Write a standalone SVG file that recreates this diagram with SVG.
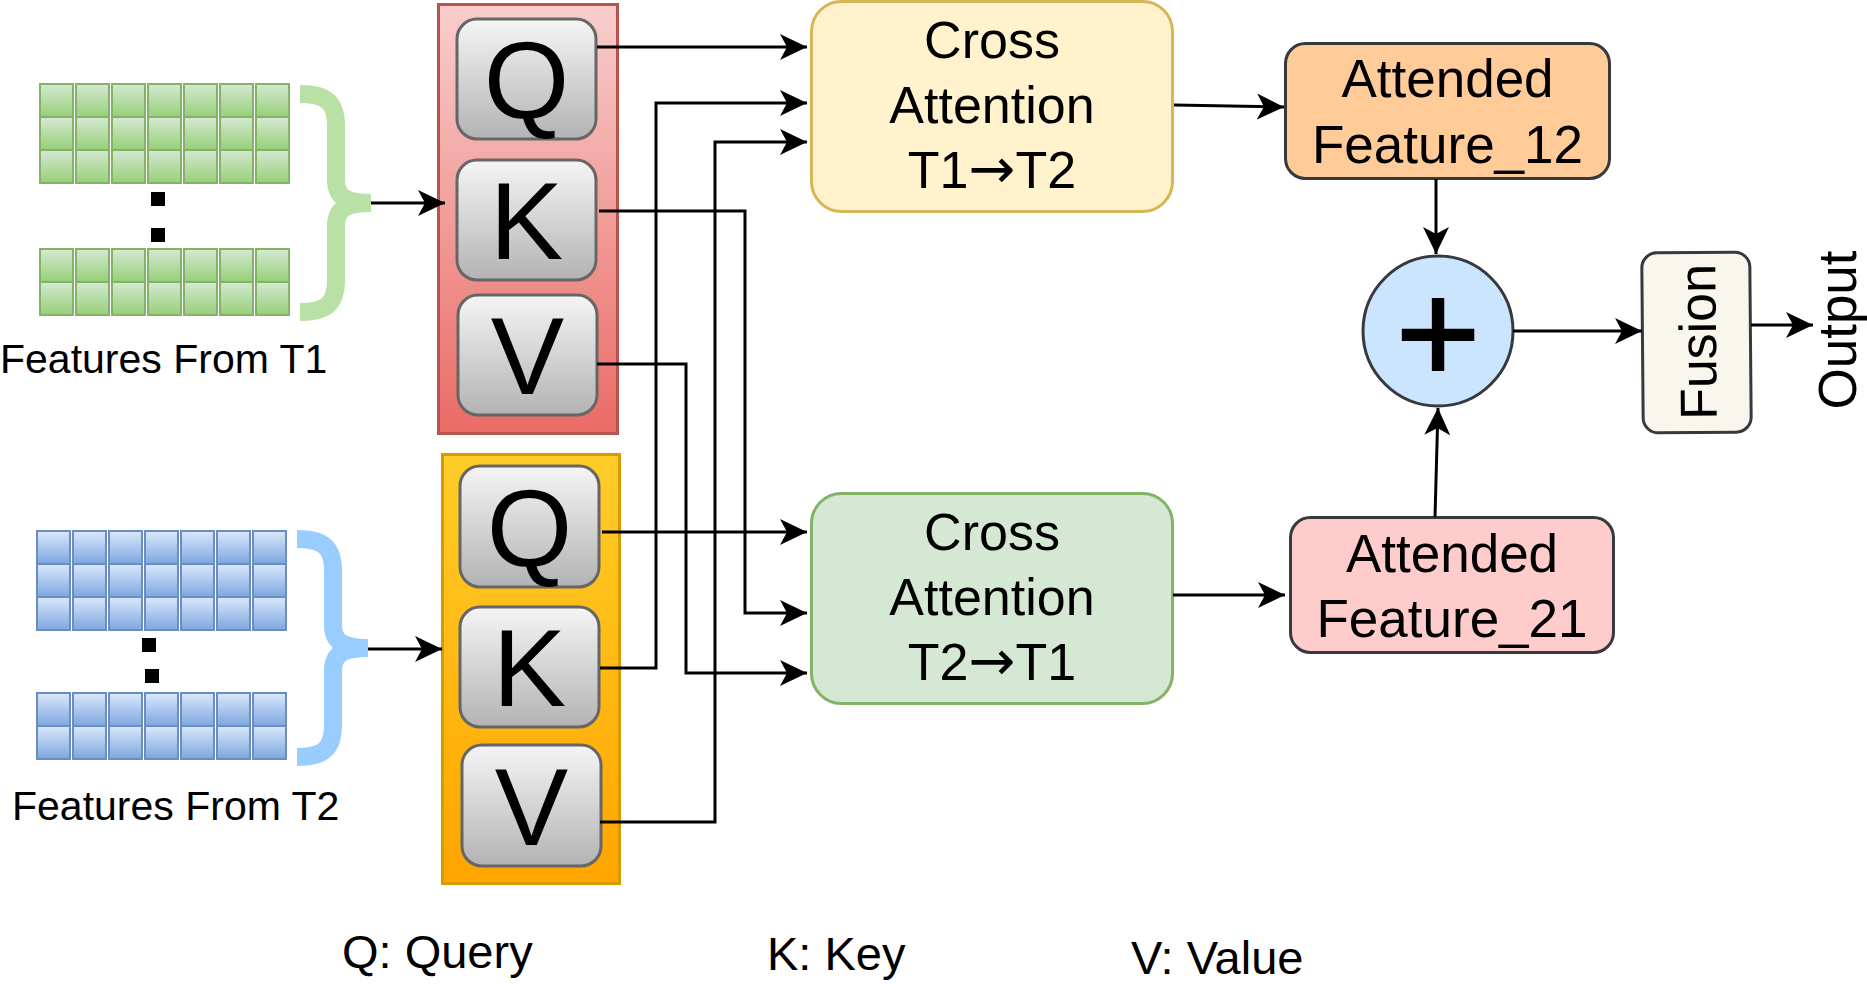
<svg xmlns="http://www.w3.org/2000/svg" xmlns:xlink="http://www.w3.org/1999/xlink" width="1867" height="984" viewBox="0 0 1867 984">
<style>
text { font-family: "Liberation Sans", Arial, sans-serif; fill: #000; }
.big { font-size: 110px; text-anchor: middle; }
.ca { font-size: 52px; text-anchor: middle; }
.arw { font-family: "DejaVu Sans", sans-serif; font-size: 56px; }
.af { font-size: 53px; text-anchor: middle; }
.lbl { font-size: 41px; }
.leg { font-size: 47px; }
.conn { fill: none; stroke: #000; stroke-width: 3; marker-end: url(#arr); }
.kbox { fill: url(#gGray); stroke: #666666; stroke-width: 3; }
.brace { fill: none; stroke-width: 18; stroke-linecap: butt; stroke-linejoin: round; }
</style>
<defs>
<linearGradient id="gGreen" x1="0" y1="0" x2="0" y2="1"><stop offset="0" stop-color="#d5e8d4"/><stop offset="1" stop-color="#97d077"/></linearGradient>
<linearGradient id="gBlue" x1="0" y1="0" x2="0" y2="1"><stop offset="0" stop-color="#dae8fc"/><stop offset="1" stop-color="#7ea6e0"/></linearGradient>
<linearGradient id="gRed" x1="0" y1="0" x2="0" y2="1"><stop offset="0" stop-color="#f8cecc"/><stop offset="1" stop-color="#ea6b66"/></linearGradient>
<linearGradient id="gOrange" x1="0" y1="0" x2="0" y2="1"><stop offset="0" stop-color="#ffcd28"/><stop offset="1" stop-color="#ffa500"/></linearGradient>
<linearGradient id="gGray" x1="0" y1="0" x2="0" y2="1"><stop offset="0" stop-color="#f5f5f5"/><stop offset="1" stop-color="#b3b3b3"/></linearGradient>
<marker id="arr" markerUnits="userSpaceOnUse" viewBox="0 0 27 26" refX="27" refY="13" markerWidth="27" markerHeight="26" orient="auto">
<path d="M0,0 L27,13 L0,26 L7,13 Z" fill="#000"/>
</marker>
<g id="col3"><rect x="0" y="0" width="33" height="33"/><rect x="0" y="33" width="33" height="33"/><rect x="0" y="66" width="33" height="33"/></g>
<g id="col2"><rect x="0" y="0" width="33" height="33"/><rect x="0" y="33" width="33" height="33"/></g>
<g id="row3"><use xlink:href="#col3" x="0"/><use xlink:href="#col3" x="36"/><use xlink:href="#col3" x="72"/><use xlink:href="#col3" x="108"/><use xlink:href="#col3" x="144"/><use xlink:href="#col3" x="180"/><use xlink:href="#col3" x="216"/></g>
<g id="row2"><use xlink:href="#col2" x="0"/><use xlink:href="#col2" x="36"/><use xlink:href="#col2" x="72"/><use xlink:href="#col2" x="108"/><use xlink:href="#col2" x="144"/><use xlink:href="#col2" x="180"/><use xlink:href="#col2" x="216"/></g>
<g id="braceShape">
<path d="M300,94 C326,94 336,102 336,126 L336,180 C336,197 346,203 371,203"/>
<path d="M300,312 C326,312 336,304 336,280 L336,226 C336,209 346,203 371,203"/>
</g>
</defs>

<g id="features-t1">
<use xlink:href="#row3" x="40" y="84" fill="url(#gGreen)" stroke="#82b366" stroke-width="2"/>
<rect x="151" y="192" width="14" height="14" fill="#000"/>
<rect x="151" y="228" width="14" height="14" fill="#000"/>
<use xlink:href="#row2" x="40" y="249" fill="url(#gGreen)" stroke="#82b366" stroke-width="2"/>
<use xlink:href="#braceShape" class="brace" stroke="#b9e0a5"/>
<text class="lbl" x="0" y="373">Features From T1</text>
</g>

<g id="features-t2">
<use xlink:href="#row3" x="37" y="531" fill="url(#gBlue)" stroke="#6c8ebf" stroke-width="2"/>
<rect x="142" y="638" width="14" height="14" fill="#000"/>
<rect x="145" y="669" width="14" height="14" fill="#000"/>
<use xlink:href="#row2" x="37" y="693" fill="url(#gBlue)" stroke="#6c8ebf" stroke-width="2"/>
<use xlink:href="#braceShape" class="brace" stroke="#99ccff" transform="translate(-3,445)"/>
<text class="lbl" x="12" y="820">Features From T2</text>
</g>

<g id="qkv-t1">
<rect x="438.5" y="4.5" width="179" height="429" fill="url(#gRed)" stroke="#b85450" stroke-width="3"/>
<g id="q1"><rect class="kbox" x="457" y="19" width="139" height="120" rx="20"/><text class="big" x="526.5" y="118">Q</text></g>
<g id="k1"><rect class="kbox" x="457" y="160" width="139" height="120" rx="20"/><text class="big" x="526.5" y="259">K</text></g>
<g id="v1"><rect class="kbox" x="458" y="295" width="139" height="120" rx="20"/><text class="big" x="527.5" y="394">V</text></g>
</g>

<g id="qkv-t2">
<rect x="442.5" y="454.5" width="177" height="429" fill="url(#gOrange)" stroke="#d79b00" stroke-width="3"/>
<g id="q2"><rect class="kbox" x="460" y="466" width="139" height="121" rx="20"/><text class="big" x="529.5" y="566">Q</text></g>
<g id="k2"><rect class="kbox" x="460" y="607" width="139" height="120" rx="20"/><text class="big" x="529.5" y="706">K</text></g>
<g id="v2"><rect class="kbox" x="462" y="745" width="139" height="121" rx="20"/><text class="big" x="531.5" y="845">V</text></g>
</g>

<g id="cross-attn-12">
<rect x="811.5" y="1.5" width="361" height="210" rx="30" fill="#fff2cc" stroke="#d6b656" stroke-width="3"/>
<text class="ca" x="992" y="58">Cross</text>
<text class="ca" x="992" y="123">Attention</text>
<text class="ca" x="992" y="188">T1<tspan class="arw">→</tspan>T2</text>
</g>

<g id="cross-attn-21">
<rect x="811.5" y="493.5" width="361" height="210" rx="30" fill="#d5e8d4" stroke="#82b366" stroke-width="3"/>
<text class="ca" x="992" y="550">Cross</text>
<text class="ca" x="992" y="615">Attention</text>
<text class="ca" x="992" y="680">T2<tspan class="arw">→</tspan>T1</text>
</g>

<g id="attended-12">
<rect x="1285.5" y="43.5" width="324" height="135" rx="20" fill="#ffcc99" stroke="#36393d" stroke-width="3"/>
<text class="af" x="1447.5" y="97">Attended</text>
<text class="af" x="1447.5" y="163">Feature_12</text>
</g>

<g id="attended-21">
<rect x="1290.5" y="517.5" width="323" height="135" rx="20" fill="#ffcccc" stroke="#36393d" stroke-width="3"/>
<text class="af" x="1452" y="572">Attended</text>
<text class="af" x="1452" y="637">Feature_21</text>
</g>

<g id="sum">
<circle cx="1438" cy="331" r="75" fill="#cce5ff" stroke="#36393d" stroke-width="3"/>
<text x="1438" y="383" font-size="145" text-anchor="middle" stroke="#000" stroke-width="2">+</text>
</g>

<g id="fusion">
<g transform="rotate(-0.5 1696.5 342.5)">
<rect x="1642.5" y="252.5" width="108" height="180" rx="15" fill="#f9f7ed" stroke="#36393d" stroke-width="3"/>
<text font-size="52" text-anchor="middle" transform="translate(1716,342) rotate(-90)">Fusion</text>
</g>
</g>

<g id="output">
<text font-size="53" text-anchor="middle" transform="translate(1856,330) rotate(-90)">Output</text>
</g>

<g id="legend">
<text class="leg" x="342" y="968">Q: Query</text>
<text class="leg" x="767" y="970">K: Key</text>
<text class="leg" x="1131" y="974">V: Value</text>
</g>

<g id="connectors">
<path class="conn" d="M371,203 L445,203"/>
<path class="conn" d="M368,649 L442,649"/>
<path class="conn" d="M597,47 H807"/>
<path class="conn" d="M600,668 H656 V103 H807"/>
<path class="conn" d="M600,822 H715 V142 H807"/>
<path class="conn" d="M599,211 H745 V613 H807"/>
<path class="conn" d="M597,364 H686 V673 H807"/>
<path class="conn" d="M602,532 H807"/>
<path class="conn" d="M1174,105 L1284,107"/>
<path class="conn" d="M1173,595 L1285,595"/>
<path class="conn" d="M1436,179 L1436,254"/>
<path class="conn" d="M1435,517 L1438,408"/>
<path class="conn" d="M1513,331 L1642,331"/>
<path class="conn" d="M1751,325 L1813,325"/>
</g>
</svg>
